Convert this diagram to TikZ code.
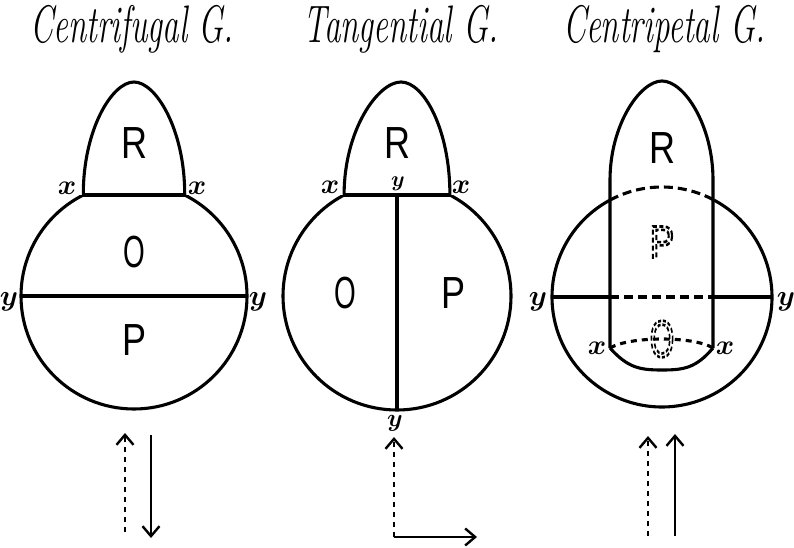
\RequirePackage{fix-cm}
\documentclass[tikz,border=0pt]{standalone}
\usepackage{fontspec}
\newfontfamily\labfont{Liberation Sans}
\usetikzlibrary{arrows.meta}
\newcommand\hollowtext[1]{\special{pdf:literal direct [5 3] 0 d 1 Tr 2.6 w 0 J}#1\special{pdf:literal direct [] 0 d 0 Tr 0 J}}
\newcommand\ptx[1]{\scalebox{#1}{\boldmath$x$}}
\newcommand\pty[1]{\scalebox{#1}{\boldmath$y$}}
\tikzset{
  outline/.style={line width=3.1pt, line join=round},
  hidden/.style={line width=3.1pt, dash pattern=on 9pt off 5pt},
  titletext/.style={font=\fontsize{33}{38}\selectfont\itshape, inner sep=0pt, anchor=base},
  region/.style={font=\fontsize{45}{48}\selectfont\labfont, inner sep=0pt},
  ptlabel/.style={font=\fontsize{20.74}{24}\selectfont, inner sep=0pt},
  motion/.style={line width=2.6pt, -{Straight Barb[length=10pt,width=17pt,line width=2.4pt]}},
  dmotion/.style={motion, dash pattern=on 5pt off 5pt},
}
\begin{document}
\begin{tikzpicture}[x=1pt,y=-1pt]
\useasboundingbox (0,0) rectangle (794,548);
% titles
\node[titletext] (t1) at (132,43) {\scalebox{1}[1.6]{Centrifugal G.}};
\node[titletext] (t2) at (401,43) {\scalebox{1}[1.6]{Tangential G.}};
\node[titletext] (t3) at (664,43) {\scalebox{1}[1.6]{Centripetal G.}};

% ---------- Figure 1: Centrifugal ----------
\coordinate (c1) at (134,296);
\begin{scope}
  \clip (0,195) rectangle (270,548);
  \draw[outline] (c1) circle[radius=113];
\end{scope}
\draw[outline] (83.3,195) -- (184.7,195);
\draw[outline] (83.3,195) .. controls (83,130) and (112,82) .. (134,82)
                 .. controls (156,82) and (185,130) .. (184.7,195);
\draw[outline] (21,296) -- (247,296);
\node[ptlabel] (x1a) at (67,188) {\ptx{1.35}};
\node[ptlabel] (x1b) at (197,188) {\ptx{1.35}};
\node[ptlabel] (y1a) at (9,302) {\pty{1.4}};
\node[ptlabel] (y1b) at (258,302) {\pty{1.4}};
\node[region] (R1) at (134,143) {\scalebox{0.8}[1]{R}};
\node[region] (O1) at (134,252) {\scalebox{0.62}[1]{O}};
\node[region] (P1) at (135,340) {\scalebox{0.8}[1]{P}};
\coordinate (a1s) at (125,532); \coordinate (a1e) at (125,433);
\coordinate (b1s) at (151,435); \coordinate (b1e) at (151,538);
\draw[dmotion] (a1s) -- (a1e);
\draw[motion] (b1s) -- (b1e);

% ---------- Figure 2: Tangential ----------
\coordinate (c2) at (397,296);
\begin{scope}
  \clip (270,195) rectangle (530,548);
  \draw[outline] (c2) circle[radius=114];
\end{scope}
\draw[outline] (344.1,195) -- (449.9,195);
\draw[outline] (344.1,195) .. controls (344,130) and (378,82) .. (401,82)
                 .. controls (424,82) and (450,130) .. (449.9,195);
\draw[outline] (397,195) -- (397,410);
\node[ptlabel] (x2a) at (330,187) {\ptx{1.35}};
\node[ptlabel] (x2b) at (461,187) {\ptx{1.35}};
\node[ptlabel] (y2a) at (398,184) {\pty{1.05}};
\node[ptlabel] (y2b) at (395,423) {\pty{1.2}};
\node[region] (R2) at (397,143) {\scalebox{0.8}[1]{R}};
\node[region] (O2) at (345,293) {\scalebox{0.62}[1]{O}};
\node[region] (P2) at (453,293) {\scalebox{0.8}[1]{P}};
\coordinate (a2s) at (394,537); \coordinate (a2e) at (394,437);
\coordinate (b2e) at (477,537);
\draw[dmotion] (a2s) -- (a2e);
\draw[motion] (a2s) -- (b2e);

% ---------- Figure 3: Centripetal ----------
\coordinate (c3) at (662,297);
\draw[outline] (c3) ++(-61.8:110) arc[start angle=-61.8, end angle=241.8, radius=110];
\draw[hidden] (c3) ++(241.8:110) arc[start angle=241.8, end angle=298.2, radius=110];
\draw[outline] (610,348) -- (610,180) .. controls (610,125) and (640,81) .. (662,81)
               .. controls (684,81) and (713,125) .. (713,180) -- (713,348);
\draw[outline] (610,348) .. controls (628,368) and (640,370) .. (662,370)
               .. controls (684,370) and (696,368) .. (713,348);
\draw[hidden, dash pattern=on 6pt off 5pt] (610,348) .. controls (630,336) and (694,336) .. (713,348);
\draw[outline] (552,297) -- (610,297);
\draw[hidden] (610,297) -- (713,297);
\draw[outline] (713,297) -- (772,297);
\node[ptlabel] (y3a) at (538,302) {\pty{1.4}};
\node[ptlabel] (y3b) at (786,302) {\pty{1.4}};
\node[ptlabel] (x3a) at (597,348) {\ptx{1.35}};
\node[ptlabel] (x3b) at (725,348) {\ptx{1.35}};
\node[region] (R3) at (662,148) {\scalebox{0.8}[1]{R}};
\coordinate (a3s) at (648,536); \coordinate (a3e) at (648,436);
\coordinate (b3s) at (675,536); \coordinate (b3e) at (675,434);
\draw[dmotion] (a3s) -- (a3e);
\draw[motion] (b3s) -- (b3e);
% hidden (dashed) labels, drawn last
\node[region] (P3) at (662,242) {\scalebox{0.8}[1]{\hollowtext{P}}};
\node[region, font=\fontsize{52}{54}\selectfont\labfont] (O3) at (662,339) {\scalebox{0.6}[1]{\hollowtext{O}}};
\end{tikzpicture}
\end{document}
